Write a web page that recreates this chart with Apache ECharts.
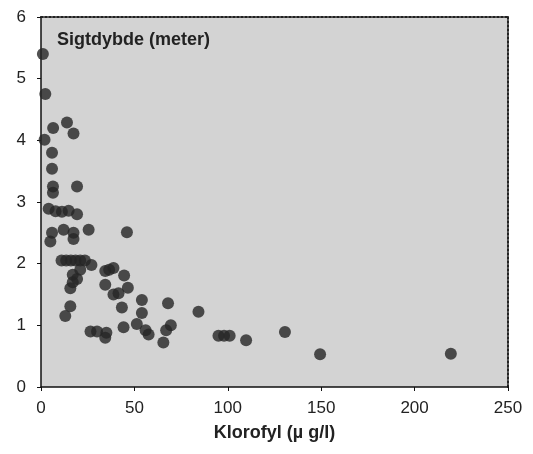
<!DOCTYPE html>
<html>
<head>
<meta charset="utf-8">
<title>Sigtdybde mod klorofyl</title>
<script src="https://cdn.jsdelivr.net/npm/echarts@6/dist/echarts.min.js"></script>
<style>
    html, body {
        margin: 0;
        padding: 0;
        background: #fff;
    }
    #chart {
        width: 533px;
        height: 454px;
    }
</style>
</head>
<body>
<div id="chart"></div>
<script>
// klorofyl (µg/l) og sigtdybde (m)
var klorofyl = [
    1, 2.3, 6.5, 13.9, 17.4, 1.9, 5.9, 5.9, 6.4, 6.4, 19.3,
    4.1, 7.8, 11.2, 14.8, 19.3, 5.9, 5, 12.1, 17.4, 17.4, 25.5, 46,
    11, 13.5, 16, 18.5, 21, 23.5, 27, 21, 17, 19.3, 15.7, 17,
    15.7, 13, 26.5, 30, 35, 34.4,
    34.4, 36.5, 38.8, 34.4, 44.5, 46.5, 38.8, 41.5, 43.3,
    54, 54, 51.3, 56, 57.6, 44.2,
    68, 69.5, 67, 65.5, 84.3, 95, 98, 101, 109.8, 130.6, 149.4, 219.4
];
var sigtdybde = [
    5.4, 4.75, 4.2, 4.29, 4.11, 4.01, 3.8, 3.54, 3.25, 3.15, 3.25,
    2.89, 2.85, 2.84, 2.86, 2.8, 2.5, 2.36, 2.55, 2.5, 2.4, 2.55, 2.51,
    2.05, 2.05, 2.05, 2.05, 2.05, 2.05, 1.98, 1.9, 1.82, 1.75, 1.6, 1.7,
    1.31, 1.15, 0.9, 0.9, 0.88, 0.8,
    1.88, 1.9, 1.93, 1.66, 1.81, 1.61, 1.5, 1.52, 1.29,
    1.41, 1.2, 1.02, 0.92, 0.85, 0.97,
    1.36, 1.0, 0.92, 0.72, 1.22, 0.83, 0.83, 0.83, 0.76, 0.89, 0.53, 0.54
];
var xTicks = [0, 50, 100, 150, 200, 250];
var yTicks = [0, 1, 2, 3, 4, 5, 6];

var points = klorofyl.map(function (x, i) {
    return [x, sigtdybde[i]];
});

var font = "'Liberation Sans', Arial, sans-serif";

var chart = echarts.init(document.getElementById("chart"));
chart.setOption({
    animation: false,
    title: {
        text: "Sigtdybde (meter)",
        left: 57,
        top: 31,
        padding: 0,
        textStyle: {
            fontFamily: font,
            fontSize: 18,
            fontWeight: "bold",
            color: "#222",
        },
    },
    grid: {
        left: 41,
        right: 25,
        top: 17,
        bottom: 67,
        show: true,
        backgroundColor: "#d3d3d3",
        borderWidth: 0,
    },
    xAxis: [
        {
            type: "value",
            min: xTicks[0],
            max: xTicks[xTicks.length - 1],
            interval: 50,
            name: "Klorofyl (µ g/l)",
            nameLocation: "middle",
            nameGap: 37,
            nameTextStyle: {
                fontFamily: font,
                fontSize: 18,
                fontWeight: "bold",
                color: "#222",
            },
            axisLine: { show: true, lineStyle: { color: "#111", width: 1.5 } },
            axisTick: { show: true, length: 4, lineStyle: { color: "#111" } },
            axisLabel: { fontFamily: font, fontSize: 17, color: "#222", margin: 13 },
            splitLine: { show: false },
        },
        {
            // prikket ramme foroven
            type: "value",
            position: "top",
            min: 0,
            max: 250,
            axisLine: { show: true, onZero: false, lineStyle: { color: "#222", width: 2, type: "dotted" } },
            axisTick: { show: false },
            axisLabel: { show: false },
            splitLine: { show: false },
        },
    ],
    yAxis: [
        {
            type: "value",
            min: yTicks[0],
            max: yTicks[yTicks.length - 1],
            interval: 1,
            axisLine: { show: true, lineStyle: { color: "#111", width: 1.5 } },
            axisTick: { show: true, length: 4, lineStyle: { color: "#111" } },
            axisLabel: { fontFamily: font, fontSize: 17, color: "#222", margin: 15 },
            splitLine: { show: false },
        },
        {
            // prikket ramme til højre
            type: "value",
            position: "right",
            min: 0,
            max: 6,
            axisLine: { show: true, onZero: false, lineStyle: { color: "#222", width: 2, type: "dotted" } },
            axisTick: { show: false },
            axisLabel: { show: false },
            splitLine: { show: false },
        },
    ],
    series: [
        {
            type: "scatter",
            xAxisIndex: 0,
            yAxisIndex: 0,
            data: points,
            symbol: "circle",
            symbolSize: 12,
            itemStyle: { color: "#262626" },
        },
    ],
});
</script>
</body>
</html>
